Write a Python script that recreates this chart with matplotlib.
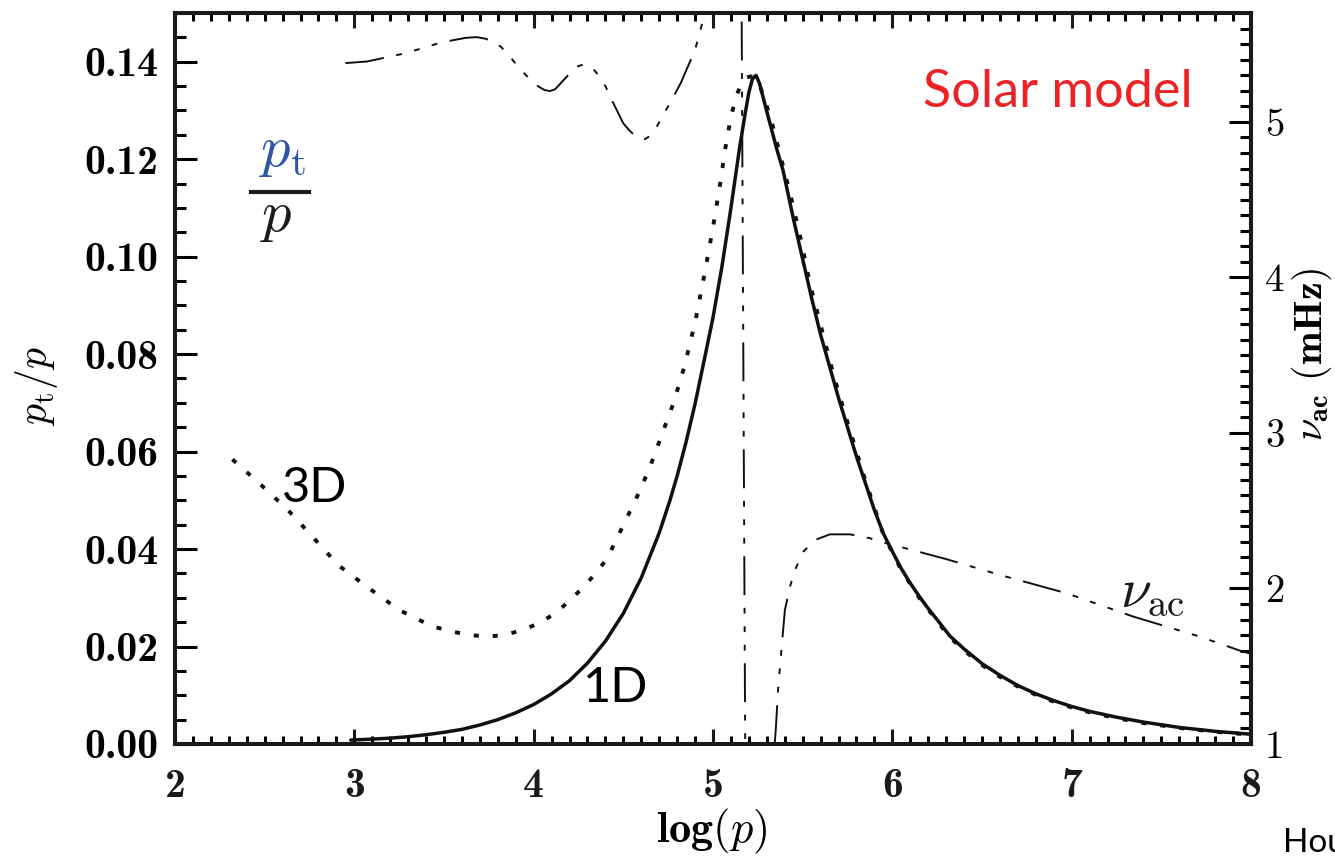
import numpy as np
import matplotlib
matplotlib.use('Agg')
import matplotlib.pyplot as plt
from matplotlib.ticker import MultipleLocator

plt.rcParams['mathtext.fontset'] = 'cm'

# ---- data ----
# 1D model, turbulent pressure ratio
logp_1d = [2.98, 3.10, 3.20, 3.30, 3.40, 3.50, 3.60, 3.70, 3.80, 3.90, 4.00, 4.10,
           4.20, 4.30, 4.40, 4.50, 4.60, 4.70, 4.76, 4.80, 4.85, 4.90, 4.95, 5.00,
           5.05, 5.10, 5.15, 5.18, 5.20, 5.22, 5.24, 5.26, 5.29, 5.32, 5.36, 5.39,
           5.45, 5.50, 5.55, 5.60, 5.65, 5.70, 5.75, 5.80, 5.85, 5.90, 5.95, 6.00,
           6.05, 6.10, 6.15, 6.20, 6.25, 6.32, 6.40, 6.50, 6.60, 6.70, 6.80, 6.90,
           7.00, 7.10, 7.25, 7.40, 7.60, 7.80, 8.00]
pt_1d = [0.0008, 0.0010, 0.0012, 0.0015, 0.0019, 0.0024, 0.0030, 0.0039, 0.0050,
         0.0064, 0.0081, 0.0103, 0.0130, 0.0166, 0.0211, 0.0268, 0.0341, 0.0433,
         0.0500, 0.0550, 0.0620, 0.0698, 0.0786, 0.0875, 0.0980, 0.1100, 0.1228,
         0.1295, 0.1337, 0.1365, 0.1372, 0.1355, 0.1312, 0.1270, 0.1215, 0.1178,
         0.1075, 0.0995, 0.0915, 0.0840, 0.0775, 0.0710, 0.0650, 0.0590, 0.0535,
         0.0480, 0.0432, 0.0395, 0.0360, 0.0330, 0.0303, 0.0278, 0.0255, 0.0222,
         0.0195, 0.0165, 0.0141, 0.0120, 0.0103, 0.0089, 0.0077, 0.0067, 0.0055,
         0.0045, 0.0034, 0.0026, 0.0020]

# 3D simulation, turbulent pressure ratio
logp_3d = [2.32, 2.47, 2.63, 2.77, 2.91, 3.08, 3.25, 3.43, 3.54, 3.64, 3.74, 3.84,
           3.94, 4.03, 4.12, 4.20, 4.28, 4.35, 4.41, 4.50, 4.59, 4.65, 4.71, 4.78,
           4.84, 4.90, 4.95, 5.00, 5.04, 5.07, 5.10, 5.13, 5.16, 5.19, 5.21, 5.23,
           5.26, 5.32, 5.37, 5.43, 5.49, 5.54, 5.60, 5.67, 5.75, 5.85, 5.95, 6.05,
           6.15, 6.25, 6.32, 6.40, 6.50, 6.60, 6.70, 6.80, 6.90, 7.00, 7.10, 7.25,
           7.40, 7.60, 7.80, 8.00]
pt_3d = [0.0584, 0.0535, 0.0480, 0.0424, 0.0367, 0.0320, 0.0275, 0.0242, 0.0231,
         0.0224, 0.0220, 0.0224, 0.0234, 0.0248, 0.0268, 0.0294, 0.0323, 0.0352,
         0.0381, 0.0449, 0.0518, 0.0570, 0.0630, 0.0700, 0.0774, 0.0865, 0.0959,
         0.1060, 0.1150, 0.1225, 0.1287, 0.1330, 0.1356, 0.1368, 0.1370, 0.1366,
         0.1352, 0.1287, 0.1215, 0.1130, 0.1035, 0.0945, 0.0860, 0.0760, 0.0660,
         0.0540, 0.0430, 0.0357, 0.0300, 0.0252, 0.0219, 0.0192, 0.0162, 0.0138,
         0.0118, 0.0101, 0.0087, 0.0075, 0.0065, 0.0053, 0.0043, 0.0033, 0.0025,
         0.0019]

# acoustic cut-off frequency (mHz), NaN = break in the curve
logp_nu = [2.95, 3.07, 3.26, 3.40, 3.48, 3.55, 3.62, 3.68, 3.73, 3.78, 3.82, 3.86,
           3.92, 3.97, 4.00, 4.03, 4.06, 4.09, 4.12, 4.16, 4.20, 4.24, 4.28, 4.31,
           4.34, 4.37, 4.40, 4.44, 4.47, 4.50, 4.53, 4.56, 4.59, 4.62, 4.65, 4.68,
           4.71, 4.76, 4.82, 4.86, 4.90, 4.95, 4.99,
           np.nan,
           5.16, 5.18,
           np.nan,
           5.344, 5.351, 5.364, 5.383, 5.401, 5.429, 5.457, 5.504, 5.569, 5.652,
           5.764, 5.875, 5.969, 6.173, 6.303, 6.60, 6.972, 7.344, 7.716, 7.939, 8.00]
nu_ac = [5.378, 5.388, 5.435, 5.480, 5.510, 5.525, 5.540, 5.545, 5.535, 5.515, 5.480,
         5.430, 5.345, 5.285, 5.249, 5.225, 5.205, 5.198, 5.210, 5.260, 5.310, 5.355,
         5.370, 5.360, 5.330, 5.285, 5.230, 5.130, 5.060, 4.990, 4.950, 4.915, 4.893,
         4.889, 4.910, 4.955, 5.020, 5.120, 5.249, 5.356, 5.463, 5.677, 5.900,
         np.nan,
         5.645, 0.90,
         np.nan,
         1.00, 1.11, 1.37, 1.626, 1.862, 2.010, 2.119, 2.237, 2.312, 2.348,
         2.348, 2.323, 2.290, 2.228, 2.188, 2.087, 1.969, 1.819, 1.690, 1.600, 1.580]

left_ticks = [0.00, 0.02, 0.04, 0.06, 0.08, 0.10, 0.12, 0.14]
left_labels = ['0.00', '0.02', '0.04', '0.06', '0.08', '0.10', '0.12', '0.14']
x_ticks = [2, 3, 4, 5, 6, 7, 8]
x_labels = ['2', '3', '4', '5', '6', '7', '8']
right_ticks = [1, 2, 3, 4, 5]
right_labels = ['1', '2', '3', '4', '5']

W, H = 1335, 856
fig = plt.figure(figsize=(W / 100, H / 100), dpi=100)
ax = fig.add_axes([175 / W, 1 - 744 / H, (1251 - 175) / W, (744 - 13) / H])
ax2 = ax.twinx()

ax.plot(logp_1d, pt_1d, color='#111111', lw=2.5, solid_capstyle='round')
ax.plot(logp_3d, pt_3d, color='#111111', lw=2.8, linestyle=(0, (1.3, 3.6)),
        dash_capstyle='butt')
ax2.plot(logp_nu, nu_ac, color='#111111', lw=1.4,
         linestyle=(0, (20, 6.5, 3, 6.5, 3, 6.5, 3, 6.5)))

ax.set_xlim(2, 8)
ax.set_ylim(0, 0.15)
ax2.set_ylim(1, 5.7)

# ticks
ax.set_xticks(x_ticks, labels=x_labels, fontfamily='cmb10', fontsize=30)
ax.set_yticks(left_ticks, labels=left_labels, fontfamily='cmb10', fontsize=30)
ax2.set_yticks(right_ticks, labels=right_labels, fontfamily='cmr10', fontsize=28)
ax.xaxis.set_minor_locator(MultipleLocator(0.1))
ax.yaxis.set_minor_locator(MultipleLocator(0.005))
ax2.yaxis.set_minor_locator(MultipleLocator(0.1))

ax.tick_params(axis='x', which='major', direction='in', length=11, width=2.2,
               top=True, pad=17, colors='#1a1a1a')
ax.tick_params(axis='x', which='minor', direction='in', length=5.5, width=2.2,
               top=True)
ax.tick_params(axis='y', which='major', direction='in', length=16, width=2.2,
               right=False, pad=12)
ax.tick_params(axis='y', which='minor', direction='in', length=8, width=2.2,
               right=False)
ax2.tick_params(axis='y', which='major', direction='in', length=16, width=2.2,
                pad=10)
ax2.tick_params(axis='y', which='minor', direction='in', length=8, width=2.2)

for a in (ax, ax2):
    for s in a.spines.values():
        s.set_linewidth(2.9)
        s.set_color('#1a1a1a')

# axis labels
fig.text(712 / W, 1 - 831 / H, r'$\mathbf{log(}p\mathbf{)}$', ha='center',
         va='center', fontsize=32)
fig.text(37 / W, 1 - 386 / H, r'$p_{\rm t}/p$', ha='center', va='center',
         rotation=90, fontsize=30)
fig.text(1312 / W, 1 - 355 / H, r'$\nu_{\mathbf{ac}}\ \mathbf{(mHz)}$',
         ha='center', va='center', rotation=90, fontsize=29)

# annotations
fig.text(923 / W, 1 - 107 / H, 'Solar model', color='#ec2227', fontsize=37.5,
         fontfamily='Lato', va='baseline')
fig.text(282 / W, 1 - 502 / H, '3D', color='black', fontsize=35,
         fontfamily='Lato', va='baseline')
fig.text(583 / W, 1 - 702 / H, '1D', color='black', fontsize=35,
         fontfamily='Lato', va='baseline')
fig.text(1283 / W, 1 - 828 / H, 'Hou', color='black', fontsize=24,
         fontfamily='Lato', va='top')

# p_t / p fraction in the upper left
fig.text(282 / W, 1 - 166 / H, r'$p_{\rm t}$', color='#2f55a5', fontsize=42,
         ha='center', va='baseline')
fig.add_artist(plt.Line2D([251 / W, 309 / W], [1 - 192 / H, 1 - 192 / H],
                          color='#1a1a1a', lw=3, transform=fig.transFigure))
fig.text(276 / W, 1 - 231 / H, r'$p$', color='#1a1a1a', fontsize=42,
         ha='center', va='baseline')

# nu_ac label
fig.text(1120 / W, 1 - 607 / H, r'$\nu_{\rm ac}$', color='#1a1a1a', fontsize=40,
         va='baseline')

fig.savefig('out.png', dpi=100)
